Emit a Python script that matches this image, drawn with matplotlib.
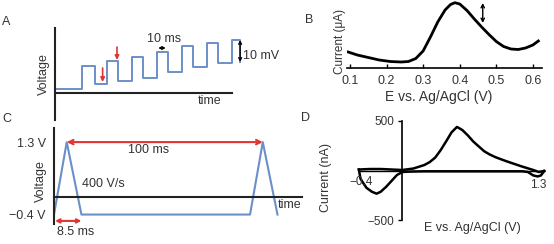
import matplotlib
matplotlib.use('Agg')
import matplotlib.pyplot as plt

plt.rcParams['font.family'] = ['Liberation Sans', 'DejaVu Sans']

# A: square wave on a staircase (time in ms, voltage in mV)
stair_t = [0, 22, 32, 42, 51, 62, 71, 82, 91, 102, 111, 122, 131, 142, 148]
stair_v = [0, 11.75, 2.5, 14, 4, 16, 5.75, 18.75, 8.5, 21.5, 11.25, 23, 13.25, 24.5, 13.5]

# B: square-wave voltammogram
swv_e = [0.095, 0.12, 0.15, 0.18, 0.21, 0.24, 0.26, 0.28, 0.30, 0.32, 0.34, 0.36,
         0.375, 0.387, 0.40, 0.42, 0.44, 0.46, 0.48, 0.50, 0.52, 0.54, 0.56, 0.58,
         0.60, 0.615]
swv_i = [1.6, 1.3, 1.05, 0.8, 0.65, 0.6, 0.65, 0.95, 1.7, 3.1, 4.6, 5.8,
         6.35, 6.53, 6.4, 5.75, 4.9, 4.1, 3.35, 2.65, 2.15, 1.9, 1.85, 2.0,
         2.3, 2.7]
swv_ticks = [0.1, 0.2, 0.3, 0.4, 0.5, 0.6]

# C: triangle waveform (time in ms, voltage in V)
tri_t = [0, 6.5, 14, 100, 106.5, 114]
tri_v = [-0.4, 1.3, -0.4, -0.4, 1.3, -0.4]
tri_ticks = [1.3, -0.4]
tri_labels = ['1.3 V', '\u22120.4 V']

# D: cyclic voltammogram (V, nA)
cv_fwd_e = [-0.4, -0.3, -0.2, -0.1, 0, 0.1, 0.2, 0.25, 0.3, 0.35, 0.4, 0.45, 0.5,
            0.55, 0.6, 0.65, 0.7, 0.75, 0.8, 0.85, 0.9, 0.95, 1.0, 1.1, 1.2, 1.25, 1.3]
cv_fwd_i = [10, 15, 15, 10, 5, 20, 55, 85, 130, 205, 293, 385, 440,
            408, 354, 292, 243, 194, 162, 136, 115, 95, 76, 39, 5, -15, -5]
cv_rev_e = [1.3, 1.27, 1.24, 1.2, 1.15, 1.1, 0.8, 0.5, 0.2, 0.1, 0.05, 0,
            -0.05, -0.1, -0.15, -0.2, -0.237, -0.28, -0.33, -0.36, -0.385, -0.4]
cv_rev_i = [-5, -50, -60, -50, -15, -8, -8, -8, -8, -10, -12, -15,
            -45, -105, -165, -215, -234, -215, -175, -126, -83, 10]
cv_ticks = [500, -500]
cv_labels = ['500', '\u2212500']

W, H = 554, 244
TXT = '#333333'
RED = '#e03535'
BLUE = '#6b8fc8'
fig = plt.figure(figsize=(W / 100, H / 100), dpi=100)


def box(x0, y0, x1, y1):
    ax = fig.add_axes([x0 / W, 1 - y1 / H, (x1 - x0) / W, (y1 - y0) / H])
    ax.patch.set_alpha(0)
    for s in ['top', 'right']:
        ax.spines[s].set_visible(False)
    return ax


def label(x, y, s, size=9, **kw):
    kw.setdefault('ha', 'center')
    kw.setdefault('va', 'center')
    fig.text(x / W, 1 - y / H, s, color=TXT, fontsize=size, **kw)


def arrow(ax, p0, p1, style='<->', color='black', lw=1.0, ms=6):
    ax.annotate('', xy=p1, xytext=p0,
                arrowprops=dict(arrowstyle=style, color=color, lw=lw,
                                shrinkA=0, shrinkB=0, mutation_scale=ms))


# ---- A ----
axA = box(54.5, 28, 279.5, 120)
axA.set_xlim(0, 180)
axA.set_ylim(-15.5, 30.5)
axA.step(stair_t, stair_v, where='post', color=BLUE, lw=1.4)
axA.spines['bottom'].set_position(('data', -2))
axA.spines['bottom'].set_bounds(0, stair_t[-2])
for s in ['left', 'bottom']:
    axA.spines[s].set_linewidth(1.5)
    axA.spines[s].set_color('#222222')
axA.set_xticks([])
axA.set_yticks([])
arrow(axA, (stair_t[3] - 3.5, stair_v[2] + 8), (stair_t[3] - 3.5, stair_v[2] + 1),
      style='-|>', color=RED, lw=1.2, ms=6)
arrow(axA, (stair_t[4] - 1, stair_v[3] + 7), (stair_t[4] - 1, stair_v[3] + 0.5),
      style='-|>', color=RED, lw=1.2, ms=6)
arrow(axA, (stair_t[7] + 1, stair_v[7] + 1.75), (stair_t[8] - 2, stair_v[7] + 1.75), ms=4)
arrow(axA, (stair_t[-1] + 0.5, stair_v[-2]), (stair_t[-1] + 0.5, stair_v[-1]), ms=5)

label(6, 22, 'A')
label(44, 74, 'Voltage', rotation=90)
label(210, 101, 'time')
label(164, 39, '10 ms')
label(243, 56, '10 mV', ha='left')

# ---- B ----
axB = box(347.4, 0, 542, 68)
axB.set_xlim(0.093, 0.625)
axB.set_ylim(0, 6.8)
axB.plot(swv_e, swv_i, color='black', lw=2)
axB.spines['left'].set_visible(False)
axB.spines['bottom'].set_linewidth(1.2)
axB.set_yticks([])
axB.set_xticks(swv_ticks)
axB.set_xticklabels([f'{v:.1f}' for v in swv_ticks])
axB.tick_params(axis='x', direction='in', length=3, width=1, labelsize=9,
                pad=5, labelcolor=TXT)
arrow(axB, (0.463, 6.5), (0.463, 4.5), ms=6)

label(309, 20, 'B')
label(340, 41, 'Current (\u03bcA)', size=8.5, rotation=90)
label(439, 97, 'E vs. Ag/AgCl (V)', size=10)

# ---- C ----
axC = box(54, 128, 302, 224)
axC.set_xlim(0, 126.5)
axC.set_ylim(-0.622, 1.631)
axC.plot(tri_t, tri_v, color=BLUE, lw=1.5)
axC.spines['bottom'].set_position(('data', 0))
for s in ['left', 'bottom']:
    axC.spines[s].set_linewidth(1.5)
    axC.spines[s].set_color('#222222')
axC.set_xticks([])
axC.set_yticks(tri_ticks)
axC.set_yticklabels(tri_labels)
axC.tick_params(axis='y', length=0, pad=6, labelsize=9, labelcolor=TXT)
arrow(axC, (tri_t[1], tri_v[1]), (tri_t[4], tri_v[4]), color=RED, lw=1.5, ms=8)
arrow(axC, (tri_t[0] + 0.5, -0.55), (tri_t[2], -0.55), color=RED, lw=1.5, ms=6)

label(7, 119, 'C')
label(41, 181, 'Voltage', rotation=90)
label(149, 150, '100 ms')
label(82, 184, '400 V/s', ha='left')
label(57, 232, '8.5 ms', ha='left')
label(290, 205, 'time')

# ---- D ----
axD = box(353.4, 119, 554, 222)
axD.set_xlim(-0.45, 1.39)
axD.set_ylim(-520, 520)
axD.plot(cv_fwd_e, cv_fwd_i, color='black', lw=1.8)
axD.plot(cv_rev_e, cv_rev_i, color='black', lw=1.8)
axD.spines['left'].set_position(('data', 0))
axD.spines['left'].set_bounds(-500, 500)
axD.spines['left'].set_linewidth(1.2)
axD.spines['bottom'].set_position(('data', 0))
axD.spines['bottom'].set_bounds(cv_fwd_e[0], cv_fwd_e[-1])
axD.spines['bottom'].set_linewidth(1.0)
axD.set_xticks([])
axD.set_yticks(cv_ticks)
axD.set_yticklabels(cv_labels)
axD.tick_params(axis='y', direction='out', length=3, width=1, pad=3,
                labelsize=8.5, labelcolor=TXT)

label(305, 118, 'D')
label(326, 178, 'Current (nA)', rotation=90)
label(472, 228, 'E vs. Ag/AgCl (V)')
label(361, 182, '\u22120.4', size=8.5)
label(538, 185, '1.3', size=8.5)

fig.savefig('out.png', dpi=100)
